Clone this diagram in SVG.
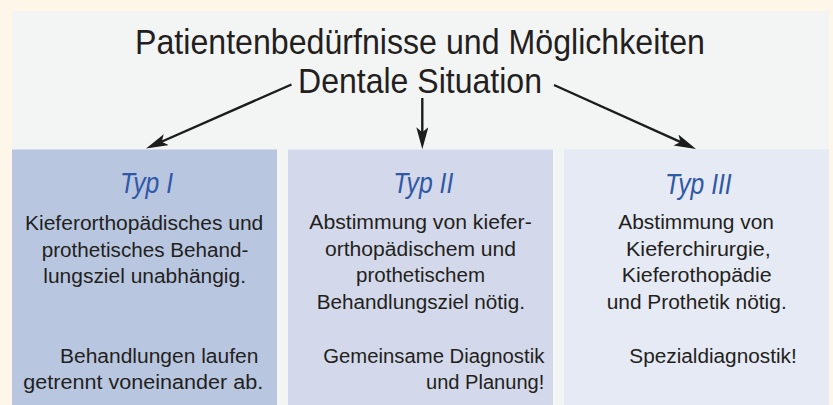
<svg xmlns="http://www.w3.org/2000/svg" width="833" height="405" viewBox="0 0 833 405">
<defs>
<style>
.t{font-family:"Liberation Sans",Arial,sans-serif;fill:#231f20}
.h{font-size:35px}
.b{font-size:19.5px}
.typ{font-family:"Liberation Sans",Arial,sans-serif;font-style:italic;font-size:30px;fill:#2f58a6}
.arr{fill:none;stroke:#1c1c1c;stroke-width:2.4;marker-end:url(#ah)}
</style>
<marker id="ah" markerUnits="userSpaceOnUse" markerWidth="24" markerHeight="14" refX="12" refY="6" orient="auto">
<path d="M0,0 L22,6 L0,12 L5,6 Z" fill="#1c1c1c"/>
</marker>
</defs>
<rect x="0" y="0" width="833" height="405" fill="#fff6ea"/>
<rect x="12" y="11" width="817" height="394" fill="#f3f4f4"/>
<g id="title">
<text class="t h" x="135" y="53.5" textLength="570" lengthAdjust="spacingAndGlyphs">Patientenbedürfnisse und Möglichkeiten</text>
<text class="t h" x="298" y="92.7" textLength="244" lengthAdjust="spacingAndGlyphs">Dentale Situation</text>
</g>
<g id="connectors">
<path class="arr" d="M291.5,84.5 L155.2,144.5"/>
<path class="arr" d="M422.3,98 L422.3,139.3"/>
<path class="arr" d="M554,85 L686.9,144.9"/>
</g>
<g id="typ1">
<rect x="12" y="149.5" width="265" height="256" fill="#b8c6e0"/>
<text class="typ" x="120" y="193.3" textLength="53" lengthAdjust="spacingAndGlyphs">Typ I</text>
<text class="t b" x="25" y="230" textLength="238.3" lengthAdjust="spacingAndGlyphs">Kieferorthopädisches und</text>
<text class="t b" x="41.7" y="256.5" textLength="206.6" lengthAdjust="spacingAndGlyphs">prothetisches Behand-</text>
<text class="t b" x="43.3" y="282.7" textLength="202.7" lengthAdjust="spacingAndGlyphs">lungsziel unabhängig.</text>
<text class="t b" x="60" y="362.7" textLength="198.3" lengthAdjust="spacingAndGlyphs">Behandlungen laufen</text>
<text class="t b" x="23.3" y="389.3" textLength="240" lengthAdjust="spacingAndGlyphs">getrennt voneinander ab.</text>
</g>
<g id="typ2">
<rect x="288" y="149.5" width="265" height="256" fill="#d3d9ea"/>
<text class="typ" x="393.3" y="193.3" textLength="60" lengthAdjust="spacingAndGlyphs">Typ II</text>
<text class="t b" x="309.3" y="229" textLength="222.4" lengthAdjust="spacingAndGlyphs">Abstimmung von kiefer-</text>
<text class="t b" x="325" y="256" textLength="191" lengthAdjust="spacingAndGlyphs">orthopädischem und</text>
<text class="t b" x="356" y="282" textLength="129" lengthAdjust="spacingAndGlyphs">prothetischem</text>
<text class="t b" x="316.7" y="308.5" textLength="208.3" lengthAdjust="spacingAndGlyphs">Behandlungsziel nötig.</text>
<text class="t b" x="323.3" y="363" textLength="221" lengthAdjust="spacingAndGlyphs">Gemeinsame Diagnostik</text>
<text class="t b" x="426" y="389" textLength="118.3" lengthAdjust="spacingAndGlyphs">und Planung!</text>
</g>
<g id="typ3">
<rect x="564" y="149.5" width="265" height="256" fill="#e6eaf4"/>
<text class="typ" x="665" y="193.5" textLength="66.7" lengthAdjust="spacingAndGlyphs">Typ III</text>
<text class="t b" x="618.3" y="229" textLength="155.7" lengthAdjust="spacingAndGlyphs">Abstimmung von</text>
<text class="t b" x="626" y="256" textLength="144.7" lengthAdjust="spacingAndGlyphs">Kieferchirurgie,</text>
<text class="t b" x="621.7" y="282" textLength="150" lengthAdjust="spacingAndGlyphs">Kieferothopädie</text>
<text class="t b" x="606.7" y="308.5" textLength="180" lengthAdjust="spacingAndGlyphs">und Prothetik nötig.</text>
<text class="t b" x="629.3" y="363" textLength="167.4" lengthAdjust="spacingAndGlyphs">Spezialdiagnostik!</text>
</g>
</svg>
